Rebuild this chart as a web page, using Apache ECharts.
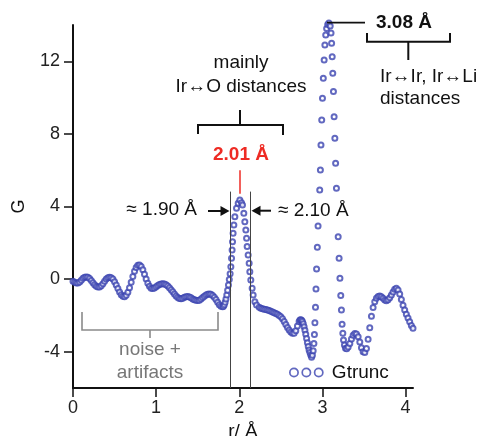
<!DOCTYPE html>
<html>
<head>
<meta charset="utf-8">
<script src="https://cdn.jsdelivr.net/npm/echarts@6/dist/echarts.min.js"></script>
<style>
html,body{margin:0;padding:0;background:#fff;}
#chart{width:489px;height:436px;}
</style>
</head>
<body>
<div id="chart"></div>
<script>
// ---- data ----
const seriesName = 'Gtrunc';
const xTicks = [0, 1, 2, 3, 4];
const yTicks = [-4, 0, 4, 8, 12];

const rValues = [
  0.00,0.02,0.04,0.06,0.08,0.10,0.12,0.14,0.16,0.18,
  0.20,0.22,0.24,0.26,0.28,0.30,0.32,0.34,0.36,0.38,
  0.40,0.42,0.44,0.46,0.48,0.50,0.52,0.54,0.56,0.58,
  0.60,0.62,0.64,0.66,0.68,0.70,0.72,0.74,0.76,0.78,
  0.80,0.82,0.84,0.86,0.88,0.90,0.92,0.94,0.96,0.98,
  1.00,1.02,1.04,1.06,1.08,1.10,1.12,1.14,1.16,1.18,
  1.20,1.22,1.24,1.26,1.28,1.30,1.32,1.34,1.36,1.38,
  1.40,1.42,1.44,1.46,1.48,1.50,1.52,1.54,1.56,1.58,
  1.60,1.62,1.64,1.66,1.68,1.70,1.72,1.74,1.76,1.78,
  1.80,1.81,1.82,1.83,1.84,1.85,1.86,1.87,1.88,1.89,
  1.899,1.907,1.914,1.919,1.926,1.935,1.947,1.967,1.987,2.007,
  2.027,2.039,2.055,2.067,2.079,2.088,2.095,2.107,2.119,2.127,
  2.139,2.155,2.167,2.188,2.208,
  2.24,2.26,2.28,2.30,2.32,2.34,2.36,2.38,2.40,2.42,
  2.44,2.46,2.48,2.50,2.52,2.54,2.56,2.58,2.60,2.62,
  2.64,2.66,2.68,2.70,2.72,
  2.73,2.74,2.75,2.76,2.77,2.78,2.79,2.80,2.81,2.82,
  2.83,2.84,2.85,2.86,
  2.870,2.880,2.889,2.898,2.904,2.910,2.917,2.923,2.930,2.939,
  2.948,2.958,2.968,2.976,2.983,2.992,3.001,3.011,3.021,3.030,
  3.040,3.051,3.064,3.078,3.094,3.104,3.111,3.118,3.125,3.133,
  3.141,3.150,3.159,3.169,3.180,3.190,3.201,3.211,3.221,3.229,
  3.237,3.246,3.254,3.265,3.278,3.293,
  3.31,3.33,3.35,3.37,3.39,3.41,3.43,3.45,3.47,3.49,
  3.51,3.53,3.55,3.57,3.59,3.61,3.63,3.65,3.67,3.69,
  3.71,3.73,3.75,3.77,3.79,3.81,3.83,3.85,3.87,3.89,
  3.91,3.93,3.95,3.97,3.99,4.01,4.03,4.05,4.07,4.09
];

const gValues = [
  -0.12,-0.18,-0.22,-0.22,-0.16,-0.06,0.04,0.10,0.12,0.10,
  0.03,-0.08,-0.20,-0.31,-0.39,-0.43,-0.43,-0.37,-0.26,-0.12,
  0.00,0.07,0.10,0.08,0.00,-0.14,-0.32,-0.52,-0.71,-0.86,
  -0.95,-0.97,-0.89,-0.72,-0.47,-0.17,0.14,0.43,0.64,0.76,
  0.78,0.70,0.52,0.27,0.00,-0.23,-0.40,-0.50,-0.52,-0.49,
  -0.42,-0.35,-0.30,-0.27,-0.26,-0.27,-0.31,-0.38,-0.47,-0.58,
  -0.70,-0.82,-0.93,-1.02,-1.07,-1.08,-1.05,-1.00,-0.97,-0.96,
  -0.98,-1.03,-1.09,-1.14,-1.17,-1.18,-1.16,-1.10,-1.02,-0.94,
  -0.87,-0.83,-0.82,-0.84,-0.90,-1.00,-1.13,-1.27,-1.41,-1.49,
  -1.52,-1.50,-1.42,-1.28,-1.10,-0.88,-0.62,-0.32,-0.02,0.30,
  0.68,1.15,1.60,2.06,2.52,2.98,3.44,3.90,4.18,4.36,
  4.21,4.08,3.63,3.16,2.71,2.25,1.79,1.33,0.87,0.41,
  -0.05,-0.51,-0.88,-1.25,-1.43,
  -1.55,-1.60,-1.64,-1.66,-1.68,-1.70,-1.73,-1.77,-1.81,-1.85,
  -1.89,-1.94,-2.00,-2.08,-2.19,-2.33,-2.50,-2.67,-2.80,-2.92,
  -2.99,-2.98,-2.84,-2.58,-2.33,
  -2.26,-2.24,-2.27,-2.34,-2.46,-2.62,-2.82,-3.04,-3.27,-3.50,
  -3.72,-3.90,-4.04,-4.18,
  -4.30,-4.20,-3.95,-3.55,-3.05,-2.40,-1.55,-0.55,0.55,1.75,
  2.93,3.92,4.91,6.01,7.39,8.77,9.96,11.06,12.07,12.90,
  13.45,13.81,14.03,14.11,13.94,13.56,12.99,12.25,11.34,10.33,
  8.95,7.76,6.38,5.00,3.70,2.34,1.15,0.04,-0.91,-1.70,
  -2.49,-2.99,-3.36,-3.63,-3.81,-3.84,
  -3.74,-3.55,-3.30,-3.10,-3.00,-3.02,-3.18,-3.46,-3.78,-4.00,
  -4.04,-3.82,-3.32,-2.68,-2.05,-1.57,-1.25,-1.05,-0.96,-0.93,
  -0.97,-1.06,-1.15,-1.19,-1.14,-1.03,-0.88,-0.71,-0.56,-0.51,
  -0.60,-0.82,-1.12,-1.44,-1.70,-1.93,-2.14,-2.35,-2.55,-2.71
];

// annotation anchors (data units)
const lowEdgeR = 1.887, highEdgeR = 2.127, edgeTopG = 4.82;
const peakR = 2.0, peakTickG = [4.7, 6.0];

// ---- styles ----
const FONT = '"Liberation Sans", Arial, Helvetica, sans-serif';
const BLUE = '#3b44b0';
const INK = '#111';
const GREY = '#8a8a8a';

const chart = echarts.init(document.getElementById('chart'), null, {renderer: 'canvas'});

const pts = rValues.map((r, i) => [r, gValues[i]]);

const ringPath = 'path://M0.5,4.5A4,4 0 1,0 8.5,4.5A4,4 0 1,0 0.5,4.5Z' +
  'M12.5,4.5A4,4 0 1,0 20.5,4.5A4,4 0 1,0 12.5,4.5Z' +
  'M24.5,4.5A4,4 0 1,0 32.5,4.5A4,4 0 1,0 24.5,4.5Z';

function txt(text, x, y, opts) {
  return {
    type: 'text', z: 100, x: x, y: y,
    style: Object.assign({text: text, font: '19px ' + FONT, fill: INK, align: 'center', verticalAlign: 'middle'}, opts || {})
  };
}
function poly(points, color, w) {
  return {type: 'polyline', z: 100, shape: {points: points}, style: {stroke: color, lineWidth: w, fill: null}};
}
function tri(points) {
  return {type: 'polygon', z: 100, shape: {points: points}, style: {fill: INK}};
}

const option = {
  animation: false,
  backgroundColor: '#fff',
  grid: {left: 73, right: 76, top: 25, bottom: 48, containLabel: false, outerBoundsMode: 'none'},
  legend: {
    left: 289, top: 363, padding: 0, itemWidth: 33, itemHeight: 9, itemGap: 0,
    textStyle: {fontSize: 19, fontFamily: FONT, color: INK, padding: [0, 0, 0, 4]},
    data: [{name: seriesName, icon: ringPath,
      itemStyle: {color: 'rgba(0,0,0,0)', borderColor: BLUE, borderWidth: 1.7}}]
  },
  xAxis: {
    type: 'value', min: 0, max: 4.09,
    name: 'r/ Å', nameLocation: 'middle', nameGap: 29,
    nameTextStyle: {fontSize: 19, fontFamily: FONT, color: INK},
    axisLine: {onZero: false, lineStyle: {color: INK, width: 2}},
    axisTick: {length: 9, lineStyle: {color: INK, width: 1.5}, customValues: xTicks},
    axisLabel: {customValues: xTicks, fontSize: 18, fontFamily: FONT, color: '#222', margin: 11},
    splitLine: {show: false}
  },
  yAxis: {
    type: 'value', min: -6, max: 14,
    name: 'G', nameLocation: 'middle', nameRotate: 90, nameGap: 45,
    nameTextStyle: {fontSize: 18, fontFamily: FONT, color: INK},
    axisLine: {onZero: false, lineStyle: {color: INK, width: 2}},
    axisTick: {length: 9, lineStyle: {color: INK, width: 1.5}, customValues: yTicks},
    axisLabel: {customValues: yTicks, fontSize: 18, fontFamily: FONT, color: '#222', margin: 13},
    splitLine: {show: false}
  },
  series: [{
    name: seriesName, type: 'scatter', data: pts, clip: false,
    symbol: 'emptyCircle', symbolSize: 5,
    itemStyle: {color: BLUE, borderColor: BLUE, borderWidth: 1.2},
    markLine: {
      silent: true, symbol: 'none', label: {show: false},
      data: [
        [{coord: [lowEdgeR, edgeTopG], lineStyle: {color: '#444', width: 1, type: 'solid'}}, {coord: [lowEdgeR, -6]}],
        [{coord: [highEdgeR, edgeTopG], lineStyle: {color: '#444', width: 1, type: 'solid'}}, {coord: [highEdgeR, -6]}],
        [{coord: [peakR, peakTickG[0]], lineStyle: {color: '#ee2b24', width: 1.5, type: 'solid'}}, {coord: [peakR, peakTickG[1]]}]
      ]
    }
  }],
  graphic: [
    // mainly Ir-O distances
    txt('mainly\nIr↔O distances', 241, 75, {lineHeight: 24}),
    poly([[198, 134], [198, 125], [283, 125], [283, 135]], INK, 2),
    poly([[240, 125], [240, 110]], INK, 2),
    txt('2.01 Å', 241, 155, {font: 'bold 19px ' + FONT, fill: '#ee2b24'}),
    // edge arrows
    txt('≈ 1.90 Å', 197, 210, {align: 'right'}),
    poly([[208, 211], [222, 211]], INK, 2),
    tri([[229.5, 211], [220.5, 206], [220.5, 216]]),
    txt('≈ 2.10 Å', 278, 210.5, {align: 'left', backgroundColor: '#fff', lineHeight: 19}),
    poly([[260, 210.7], [271, 210.7]], INK, 2),
    tri([[251.5, 210.7], [260.5, 205.7], [260.5, 215.7]]),
    // 3.08 peak
    poly([[327, 22.7], [365, 22.7]], INK, 1.7),
    txt('3.08 Å', 376, 22.5, {align: 'left', font: 'bold 19px ' + FONT}),
    poly([[367, 33], [367, 41.7], [450, 41.7], [450, 33]], INK, 2),
    poly([[408.3, 41.7], [408.3, 60]], INK, 2),
    txt('Ir↔Ir, Ir↔Li\ndistances', 380, 87.5, {align: 'left', lineHeight: 21.6}),
    // noise + artifacts
    poly([[82, 312], [82, 330], [218, 330], [218, 312]], GREY, 1.6),
    poly([[150, 330], [150, 338]], GREY, 1.6),
    txt('noise +\nartifacts', 150, 361.5, {fill: '#777', lineHeight: 23})
  ]
};

chart.setOption(option);
</script>
</body>
</html>
